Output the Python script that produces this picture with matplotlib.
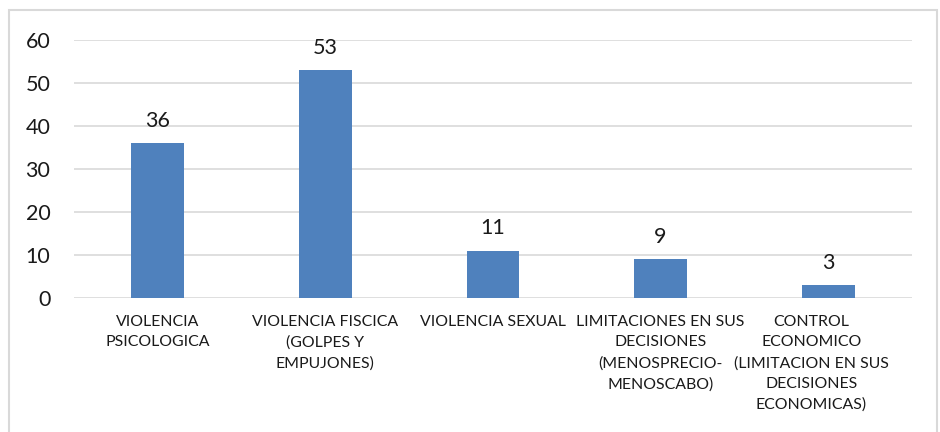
import matplotlib
matplotlib.use("Agg")
import matplotlib.pyplot as plt
import matplotlib.transforms as mtransforms
from matplotlib.patches import Rectangle

categories = [
    "VIOLENCIA\nPSICOLOGICA",
    "VIOLENCIA FISCICA\n(GOLPES Y\nEMPUJONES)",
    "VIOLENCIA SEXUAL",
    "LIMITACIONES EN SUS\nDECISIONES\n(MENOSPRECIO-\nMENOSCABO)",
    "CONTROL\nECONOMICO\n(LIMITACION EN SUS\nDECISIONES\nECONOMICAS)",
]
values = [36, 53, 11, 9, 3]
yticks = [0, 10, 20, 30, 40, 50, 60]

BAR = "#4F81BD"; GRID = "#D9D9D9"
plt.rcParams["font.family"] = ["Lato", "DejaVu Sans"]

fig = plt.figure(figsize=(9.4, 4.32), dpi=100)
ax = fig.add_axes([74 / 940, 1 - 298 / 432, (912 - 74) / 940, (298 - 40) / 432])

# chart area border (Excel style)
fig.patches.append(Rectangle((9 / 940, -0.1), (937 - 9) / 940, 1.1 - 10 / 432,
                             transform=fig.transFigure, fill=False, ec=GRID, lw=1.5))

xs = list(range(len(values)))
ax.bar(xs, values, width=0.316, color=BAR, zorder=3)
for x, v in zip(xs, values):
    ax.annotate(f"{v}", (x, v), xytext=(0, 9), textcoords="offset points",
                ha="center", va="bottom", fontsize=15.5, color="#1a1a1a")

ax.set_xlim(-0.5, len(values) - 0.5)
ax.set_ylim(0, 60)
ax.set_yticks(yticks)
ax.set_yticklabels([str(t) for t in yticks], fontsize=15.5, color="#1a1a1a")
ax.set_xticks(xs)
ax.set_xticklabels(categories, fontsize=11.4, color="#1a1a1a", linespacing=1.6)
ax.tick_params(axis="y", length=0, pad=17)
ax.tick_params(axis="x", length=0, pad=12)
ax.grid(axis="y", color=GRID, lw=1.2, zorder=0)
for s in ax.spines.values(): s.set_visible(False)

# Excel wraps the last label slightly left of its bar
last = ax.get_xticklabels()[-1]
last.set_transform(last.get_transform() + mtransforms.ScaledTranslation(-0.17, 0, fig.dpi_scale_trans))

fig.savefig("out.png", dpi=100)
